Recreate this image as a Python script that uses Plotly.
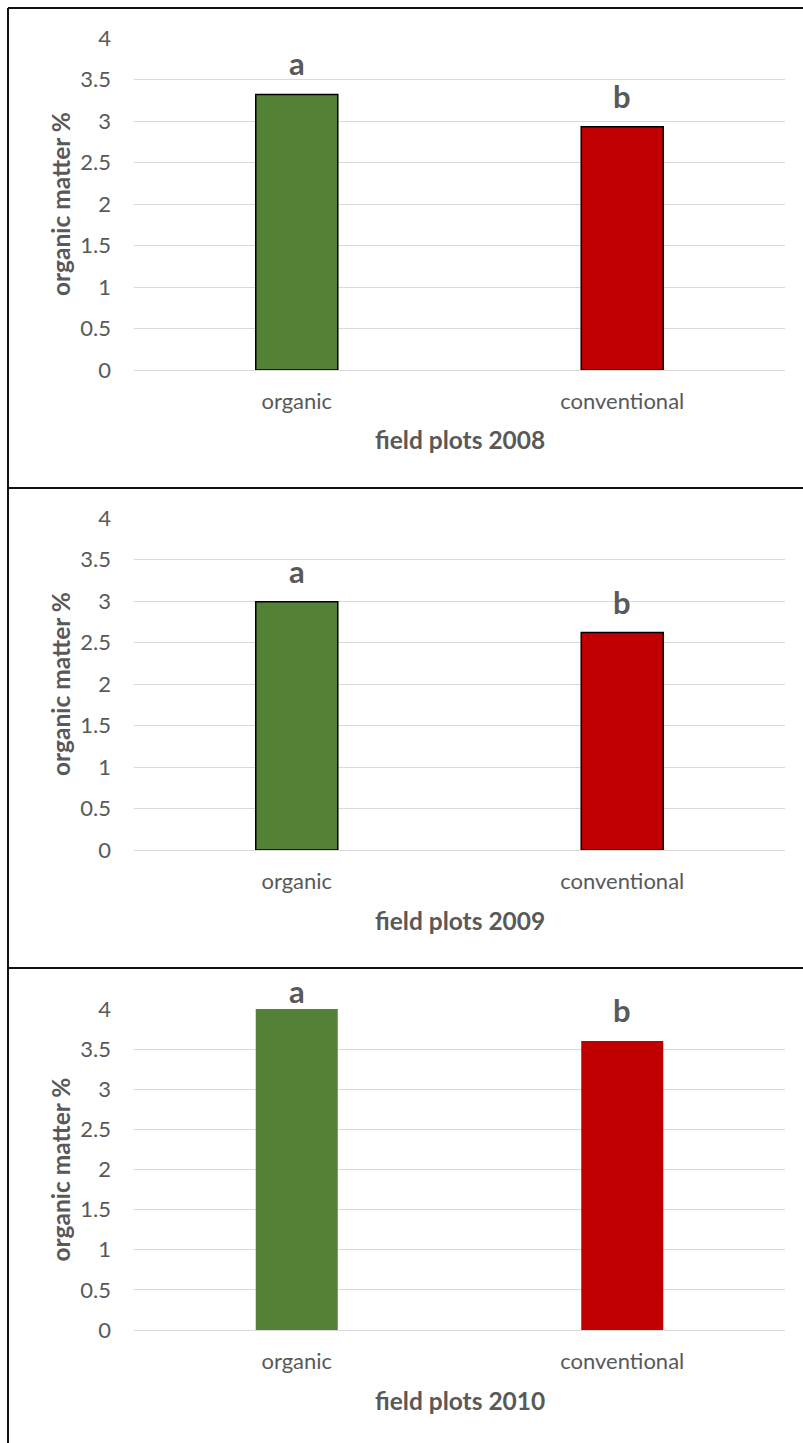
import plotly.graph_objects as go

# Soil organic matter (%) in organic vs conventional field plots, one panel per year
categories = ["organic", "conventional"]
years = ["2008", "2009", "2010"]
organic_matter = [
    [3.32, 2.93],
    [2.99, 2.62],
    [4.00, 3.60],
]
significance = [
    ["a", "b"],
    ["a", "b"],
    ["a", "b"],
]
y_ticks = [0, 0.5, 1, 1.5, 2, 2.5, 3, 3.5, 4]

W, H = 803, 1443
FONT = "Lato, Carlito, Calibri, sans-serif"
TEXT = "#595959"
GRID = "#d9d9d9"
bar_colors = ["#538135", "#c00000"]
outlined = [True, True, False]

# pixel layout of each panel: frame top, plot top, plot bottom
frames = [8, 488, 968]
plot_px = [(38, 370), (518, 850), (1009, 1330)]
x_px = (134, 785)


def py(v):
    return 1 - v / H


def px(v):
    return v / W


fig = go.Figure()
annotations = []

for i, year in enumerate(years):
    n = "" if i == 0 else str(i + 1)
    top, bottom = plot_px[i]
    fig.add_trace(go.Bar(
        x=categories,
        y=organic_matter[i],
        xaxis="x" + n,
        yaxis="y" + n,
        marker=dict(
            color=bar_colors,
            line=dict(color="#000000", width=1.5 if outlined[i] else 0),
        ),
        showlegend=False,
        hoverinfo="x+y",
    ))
    fig.update_layout({
        "xaxis" + n: dict(
            domain=[px(x_px[0]), px(x_px[1])],
            anchor="y" + n,
            automargin=False,
            showgrid=False,
            showline=False,
            ticks="",
            tickfont=dict(family=FONT, size=22, color=TEXT),
            ticklabelstandoff=16,
        ),
        "yaxis" + n: dict(
            domain=[py(bottom), py(top)],
            anchor="x" + n,
            automargin=False,
            range=[0, 4],
            tickvals=y_ticks,
            showgrid=True,
            gridcolor=GRID,
            gridwidth=1.3,
            zeroline=True,
            zerolinecolor=GRID,
            zerolinewidth=1.3,
            showline=False,
            ticks="",
            tickfont=dict(family=FONT, size=22, color=TEXT),
            ticklabelstandoff=22,
        ),
    })

    # significance letters above each bar, kept inside the panel frame
    scale = (bottom - top) / 4.0
    for cat, val, letter in zip(categories, organic_matter[i], significance[i]):
        bar_top = bottom - val * scale
        label_y = max(bar_top - 31, frames[i] + 23)
        annotations.append(dict(
            x=cat, y=val, xref="x" + n, yref="y" + n,
            text="<b>" + letter + "</b>",
            showarrow=False, yanchor="middle",
            yshift=bar_top - label_y,
            font=dict(family=FONT, size=31, color=TEXT),
        ))

    # axis titles
    annotations.append(dict(
        x=px(60), y=py((top + bottom) / 2), xref="paper", yref="paper",
        text="<b>organic matter %</b>", textangle=-90, showarrow=False,
        xanchor="center", yanchor="middle",
        font=dict(family=FONT, size=24.5, color=TEXT),
    ))
    annotations.append(dict(
        x=px(460), y=py(bottom + 70), xref="paper", yref="paper",
        text="<b>field plots " + year + "</b>", showarrow=False,
        xanchor="center", yanchor="middle",
        font=dict(family=FONT, size=24.5, color=TEXT),
    ))

# panel frames
shapes = [dict(type="line", xref="paper", yref="paper",
               x0=px(8), x1=1, y0=py(f), y1=py(f),
               line=dict(color="#111111", width=2)) for f in frames]
shapes.append(dict(type="line", xref="paper", yref="paper",
                   x0=px(8), x1=px(8), y0=py(8), y1=0,
                   line=dict(color="#111111", width=2)))

fig.update_layout(
    width=W, height=H,
    margin=dict(l=0, r=0, t=0, b=0, autoexpand=False),
    paper_bgcolor="white",
    plot_bgcolor="white",
    bargap=0.748,
    annotations=annotations,
    shapes=shapes,
    font=dict(family=FONT, color=TEXT),
)

fig.write_html("out.html")
